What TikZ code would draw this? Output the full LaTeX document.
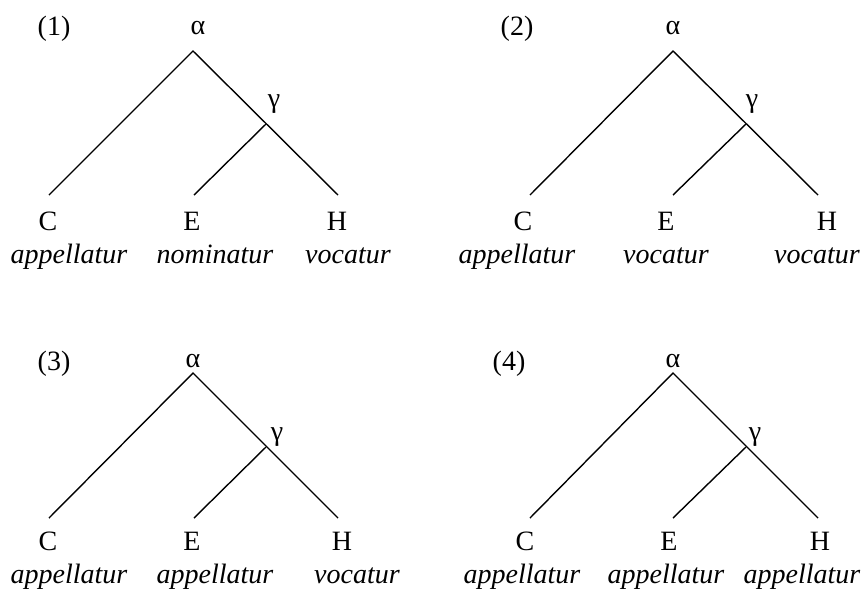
\documentclass[tikz,border=0pt]{standalone}
\usepackage{fontspec}
\setmainfont{Liberation Serif}
\begin{document}
\begin{tikzpicture}[x=0.5pt,y=-0.5pt,
  branch/.style={line width=0.7pt},
  lbl/.style={anchor=base,inner sep=0pt,font=\fontsize{14}{16}\selectfont},
  word/.style={anchor=base,inner sep=0pt,font=\fontsize{14}{16}\selectfont\itshape}]
\useasboundingbox (0,0) rectangle (867,590);
% ---------- Tree 1 ----------
\node[lbl] (n1) at (54,35) {(1)};
\node[lbl] (a1) at (198,34) {α};
\node[lbl] (g1) at (274,107) {γ};
\coordinate (t1) at (193,51);
\coordinate (j1) at (266,124);
\coordinate (c1) at (49,195);
\coordinate (e1) at (194,195);
\coordinate (h1) at (338,195);
\draw[branch] (c1) -- (t1) -- (h1);
\draw[branch] (j1) -- (e1);
\node[lbl] (C1) at (48,230) {C};
\node[lbl] (E1) at (192,230) {E};
\node[lbl] (H1) at (337,230) {H};
\node[word] (wc1) at (69,263) {appellatur};
\node[word] (we1) at (215,263) {nominatur};
\node[word] (wh1) at (348,263) {vocatur};
% ---------- Tree 2 ----------
\node[lbl] (n2) at (517,35) {(2)};
\node[lbl] (a2) at (673,34) {α};
\node[lbl] (g2) at (752,107) {γ};
\coordinate (t2) at (673,51);
\coordinate (j2) at (746,124);
\coordinate (c2) at (530,195);
\coordinate (e2) at (673,195);
\coordinate (h2) at (818,195);
\draw[branch] (c2) -- (t2) -- (h2);
\draw[branch] (j2) -- (e2);
\node[lbl] (C2) at (523,230) {C};
\node[lbl] (E2) at (666,230) {E};
\node[lbl] (H2) at (827,230) {H};
\node[word] (wc2) at (517,263) {appellatur};
\node[word] (we2) at (666,263) {vocatur};
\node[word] (wh2) at (817,263) {vocatur};
% ---------- Tree 3 ----------
\node[lbl] (n3) at (54,370) {(3)};
\node[lbl] (a3) at (193,367) {α};
\node[lbl] (g3) at (277,440) {γ};
\coordinate (t3) at (193,373);
\coordinate (j3) at (266,447);
\coordinate (c3) at (49,518);
\coordinate (e3) at (194,518);
\coordinate (h3) at (338,518);
\draw[branch] (c3) -- (t3) -- (h3);
\draw[branch] (j3) -- (e3);
\node[lbl] (C3) at (48,550) {C};
\node[lbl] (E3) at (192,550) {E};
\node[lbl] (H3) at (342,550) {H};
\node[word] (wc3) at (69,583) {appellatur};
\node[word] (we3) at (215,583) {appellatur};
\node[word] (wh3) at (357,583) {vocatur};
% ---------- Tree 4 ----------
\node[lbl] (n4) at (509,370) {(4)};
\node[lbl] (a4) at (673,367) {α};
\node[lbl] (g4) at (755,440) {γ};
\coordinate (t4) at (673,373);
\coordinate (j4) at (746,447);
\coordinate (c4) at (530,518);
\coordinate (e4) at (673,518);
\coordinate (h4) at (818,518);
\draw[branch] (c4) -- (t4) -- (h4);
\draw[branch] (j4) -- (e4);
\node[lbl] (C4) at (525,550) {C};
\node[lbl] (E4) at (669,550) {E};
\node[lbl] (H4) at (820,550) {H};
\node[word] (wc4) at (522,583) {appellatur};
\node[word] (we4) at (666,583) {appellatur};
\node[word] (wh4) at (802,583) {appellatur};
\end{tikzpicture}
\end{document}
